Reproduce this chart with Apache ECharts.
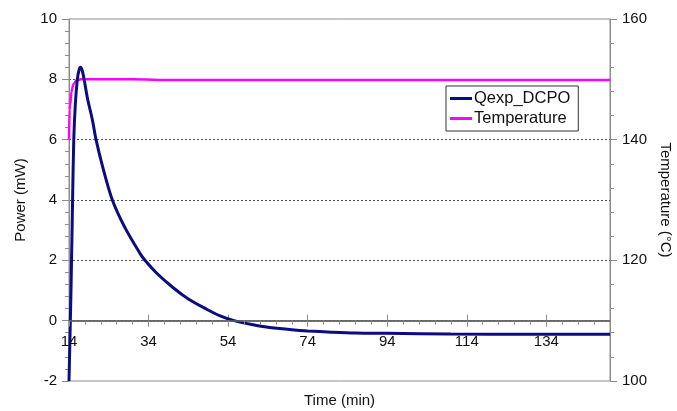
<!DOCTYPE html>
<html>
<head>
<meta charset="utf-8">
<script src="https://cdn.jsdelivr.net/npm/echarts@6/dist/echarts.min.js"></script>
<style>
html,body{margin:0;padding:0;background:#fff;}
#c{width:677px;height:411px;}
</style>
</head>
<body>
<div id="c"></div>
<script>
// Qexp_DCPO (power, mW) vs time (min)
var timeQ  = [14.0, 14.5, 14.9, 15.2, 15.6, 16.1, 16.5, 16.9, 17.3, 17.8, 18.6, 19.9, 20.8, 22.5, 24.9, 28.0, 31.8, 33.1, 36.0, 40.2, 44.0, 48.6, 52.0, 55.5, 60.0, 64.0, 70.0, 74.0, 80.0, 86.0, 94.0, 110.0, 130.0, 150.0];
var powerQ = [-2.0, 1.0, 4.0, 6.0, 7.2, 8.0, 8.3, 8.4, 8.3, 8.0, 7.4, 6.64, 6.0, 5.08, 4.0, 3.1, 2.24, 2.0, 1.58, 1.09, 0.72, 0.38, 0.16, 0.0, -0.13, -0.22, -0.30, -0.34, -0.38, -0.41, -0.42, -0.44, -0.45, -0.45];
// Temperature (°C) vs time (min)
var timeT  = [14.0, 14.15, 14.3, 14.6, 15.1, 15.9, 17.0, 30.0, 40.0, 150.0];
var tempT  = [140.0, 145.0, 145.7, 147.9, 149.2, 149.8, 150.0, 150.0, 149.9, 149.9];
var seriesNames = ['Qexp_DCPO', 'Temperature'];
var xTicks = {min: 14, max: 150, interval: 20};
var yLeft = {min: -2, max: 10, interval: 2};
var yRight = {min: 100, max: 160, interval: 20};

function pairs(xs, ys){ return xs.map(function(x,i){ return [x, ys[i]]; }); }

var font = 'Liberation Sans, Arial, sans-serif';
var axisGray = '#8c8c8c';
var gridTop = 19, gridBottom = 30, H = 411;
// distance in px from grid bottom (value -2) up to value 0
var zeroOffset = (H - gridTop - gridBottom) * (0 - yLeft.min) / (yLeft.max - yLeft.min);
var chart = echarts.init(document.getElementById('c'), null, {renderer:'canvas'});
chart.setOption({
  animation: false,
  backgroundColor: '#fff',
  grid: {left: 69, right: 67, top: gridTop, bottom: gridBottom, show: true, borderColor: axisGray, borderWidth: 1, containLabel: false, outerBoundsMode: 'none'},
  legend: {
    orient: 'vertical', left: 446, top: 86,
    data: seriesNames,
    icon: 'rect', itemWidth: 22, itemHeight: 3, itemGap: 3,
    backgroundColor: '#fff', borderColor: '#333', borderWidth: 1, borderRadius: 0,
    padding: [4, 8, 4, 4],
    textStyle: {fontFamily: font, fontSize: 16.5, color: '#111', padding: [0,0,0,-3], lineHeight: 17}
  },
  xAxis: [{
    type: 'value', min: xTicks.min, max: xTicks.max, interval: xTicks.interval,
    position: 'bottom', offset: -zeroOffset, z: 5,
    name: 'Time (min)', nameLocation: 'middle', nameGap: 73,
    nameTextStyle: {fontFamily: font, fontSize: 15, color: '#111'},
    axisLine: {show: true, onZero: false, lineStyle: {color: '#666', width: 1.5}},
    axisTick: {show: true, length: 6, lineStyle: {color: axisGray}},
    minorTick: {show: true, splitNumber: 5, length: 4, lineStyle: {color: axisGray}},
    axisLabel: {fontFamily: font, fontSize: 15, color: '#111', margin: 14, showMaxLabel: false},
    splitLine: {show: false}
  }, {
    type: 'value', min: xTicks.min, max: xTicks.max, interval: xTicks.interval,
    position: 'bottom', offset: -zeroOffset,
    axisLine: {show: false, onZero: false},
    axisTick: {show: true, inside: true, length: 6, lineStyle: {color: axisGray}},
    axisLabel: {show: false},
    splitLine: {show: false}
  }],
  yAxis: [{
    type: 'value', min: yLeft.min, max: yLeft.max, interval: yLeft.interval,
    name: 'Power (mW)', nameLocation: 'middle', nameGap: 41,
    nameTextStyle: {fontFamily: font, fontSize: 15, color: '#111'},
    axisLine: {show: true, lineStyle: {color: axisGray}},
    axisTick: {show: true, length: 7, lineStyle: {color: axisGray}},
    minorTick: {show: true, splitNumber: 5, length: 4, lineStyle: {color: axisGray}},
    axisLabel: {fontFamily: font, fontSize: 15, color: '#111', margin: 12},
    splitLine: {show: true, showMinLine: false, showMaxLine: false, lineStyle: {color: '#555', type: [2, 2], width: 1}}
  }, {
    type: 'value', min: yRight.min, max: yRight.max, interval: yRight.interval,
    position: 'right',
    name: 'Temperature (°C)', nameLocation: 'middle', nameGap: 48, nameRotate: -90,
    nameTextStyle: {fontFamily: font, fontSize: 15, color: '#111'},
    axisLine: {show: true, lineStyle: {color: axisGray}},
    axisTick: {show: true, length: 7, lineStyle: {color: axisGray}},
    minorTick: {show: true, splitNumber: 5, length: 4, lineStyle: {color: axisGray}},
    axisLabel: {fontFamily: font, fontSize: 15, color: '#111', margin: 12},
    splitLine: {show: false}
  }],
  series: [{
    name: seriesNames[1], type: 'line', xAxisIndex: 0, yAxisIndex: 1,
    data: pairs(timeT, tempT), symbol: 'none', smooth: 0.3, smoothMonotone: 'x',
    lineStyle: {color: '#ff00ff', width: 2.5}, itemStyle: {color: '#ff00ff'}, z: 3
  }, {
    name: seriesNames[0], type: 'line', xAxisIndex: 0, yAxisIndex: 0,
    data: pairs(timeQ, powerQ), symbol: 'none', smooth: 0.3,
    lineStyle: {color: '#0b0b82', width: 3}, itemStyle: {color: '#0b0b82'}, z: 4,
    markLine: {
      silent: true, symbol: 'none', label: {show: false}, z: 2,
      lineStyle: {color: '#666', type: 'solid', width: 1.5},
      data: [{yAxis: 0}]
    }
  }]
});
</script>
</body>
</html>
